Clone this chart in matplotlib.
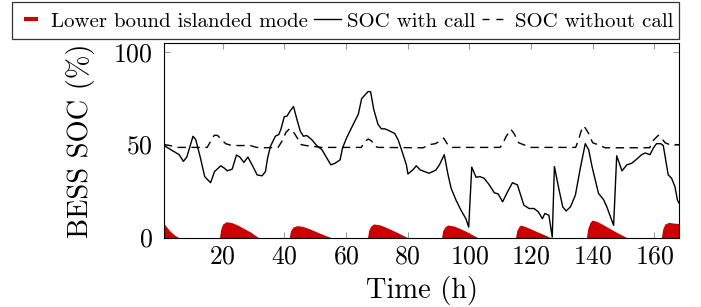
import matplotlib
matplotlib.use("Agg")
import matplotlib.pyplot as plt
from matplotlib.lines import Line2D
from matplotlib.patches import Rectangle

plt.rcParams['font.family'] = ['cmr10', 'DejaVu Serif']
plt.rcParams['mathtext.fontset'] = 'cm'
plt.rcParams['axes.unicode_minus'] = False
plt.rcParams['axes.formatter.use_mathtext'] = True

# ---- data ----
soc_call_h = [1.0, 3.2, 5.9, 7.3, 8.4, 10.4, 11.3, 12.7, 14.2, 16.1, 17.4, 19.4, 20.6, 21.5, 23.1,
              24.5, 25.6, 26.9, 28.2, 29.6, 31.2, 32.8, 33.9, 34.6, 35.5, 37.1, 38.2, 38.9, 40.0,
              40.9, 41.9, 43.0, 44.1, 45.2, 46.2, 47.3, 48.9, 50.5, 52.2, 53.8, 55.1, 56.5, 58.1,
              58.9, 60.2, 61.8, 62.9, 64.0, 65.1, 66.1, 67.2, 68.0, 69.0, 70.4, 71.5, 72.6, 73.6,
              75.8, 76.9, 78.0, 79.6, 80.1, 81.7, 82.8, 84.1, 85.5, 86.9, 88.2, 89.2, 90.3, 91.9,
              93.0, 94.1, 95.7, 97.3, 98.9, 99.8, 100.8, 102.2, 103.4, 104.8, 106.5, 108.1, 109.4,
              110.8, 112.4, 114.0, 115.6, 117.7, 119.4, 121.0, 122.4, 123.7, 124.5, 125.8, 126.9,
              127.6, 129.0, 130.3, 131.4, 132.8, 134.4, 136.0, 137.6, 138.7, 139.8, 141.9, 143.5,
              144.6, 146.8, 147.8, 149.5, 151.1, 152.7, 154.3, 155.9, 157.0, 158.6, 159.7, 160.7,
              162.1, 162.9, 164.5, 165.6, 166.7, 167.5, 168.0]
soc_call_v = [49.5, 47.3, 44.6, 41.0, 43.3, 54.5, 52.7, 43.6, 32.8, 29.5, 35.5, 38.6, 37.3, 35.9, 36.8,
              44.4, 43.3, 40.4, 43.3, 39.0, 33.7, 33.2, 35.5, 42.8, 49.0, 54.5, 55.4, 58.2, 65.0,
              65.4, 68.1, 70.5, 63.6, 57.2, 54.5, 54.9, 52.7, 49.5, 47.3, 42.8, 39.1, 40.0, 41.8,
              48.2, 53.6, 59.0, 62.7, 66.3, 74.8, 76.6, 78.6, 78.4, 69.0, 60.9, 58.5, 58.5, 57.8,
              56.0, 52.7, 47.3, 39.1, 34.2, 36.4, 38.6, 36.4, 35.5, 34.6, 35.5, 36.4, 39.1, 44.6,
              34.6, 26.5, 20.1, 14.7, 10.1, 5.6, 37.9, 32.4, 32.8, 31.9, 28.3, 24.1, 23.4,
              19.2, 24.6, 29.5, 28.3, 17.4, 15.6, 15.6, 13.8, 10.1, 12.9, 12.0, 0.2,
              38.2, 26.5, 16.5, 14.3, 16.5, 22.8, 37.3, 50.5, 47.3, 38.2, 23.7, 20.5,
              16.5, 6.5, 44.0, 35.9, 39.1, 40.0, 42.2, 44.6, 45.5, 44.6, 48.2, 50.5,
              50.5, 49.5, 33.7, 31.9, 27.3, 20.1, 18.5]

soc_nocall_h = [1, 3, 5, 15, 16.2, 17.3, 18.3, 19.5, 21, 23, 29, 31, 33, 38, 39.5, 40.5, 41.7,
                42.7, 43.8, 45.5, 47, 52, 65, 66, 67.2, 68.3, 69.5, 70.5, 85, 87, 89, 90.5, 91.7,
                93, 94.5, 110, 110.8, 112, 113.5, 114.5, 116, 118.3, 120, 134.5, 135.5, 136.3,
                137.2, 138.7, 140, 142, 144, 158.5, 159.5, 161.3, 162.3, 163.5, 165, 168]
soc_nocall_v = [50, 49.5, 48.5, 48.5, 52, 55, 55, 53, 50.5, 49.5, 49.5, 48.5, 48.3, 48.5, 52.5,
                56.5, 58.5, 57.5, 54.7, 50, 49.5, 48.5, 48.5, 51.5, 53, 52, 49, 48.5, 48.3, 50,
                50.5, 52, 53.5, 50, 48.5, 48.5, 50.5, 54.5, 58.2, 56, 51, 49.5, 48.5, 48.5, 53,
                57.5, 60, 56, 51, 49.8, 48.3, 48.3, 52, 55, 53.5, 51, 50, 50]

lower_h = [1, 2, 3, 4, 5, 5.8,
           19.0, 19.4, 20.0, 21.2, 23, 25, 27, 29, 31.6,
           41.6, 42.0, 42.8, 44.1, 46, 48, 50, 52, 55.1,
           67.0, 67.4, 68.1, 69.0, 71, 73, 75, 77, 79.9,
           91.0, 91.4, 92.2, 93.0, 95, 97, 99, 101, 102.7,
           115.0, 115.4, 116.1, 116.6, 118, 120, 122, 124, 126.3,
           138.0, 138.4, 139.1, 139.8, 141.5, 143.5, 145.5, 148, 151.0,
           162.3, 162.7, 163.4, 164.7, 166, 168]
lower_v = [7.5, 5.4, 3.4, 1.9, 0.7, 0,
           0, 4.5, 7.2, 8.5, 8.0, 6.6, 4.8, 3.0, 0,
           0, 3.5, 5.6, 6.4, 6.0, 4.8, 3.4, 2.0, 0,
           0, 4.0, 6.3, 7.3, 6.8, 5.5, 4.0, 2.4, 0,
           0, 3.8, 5.9, 6.7, 6.2, 4.8, 3.3, 1.5, 0,
           0, 3.8, 5.9, 6.7, 6.0, 4.6, 3.1, 1.7, 0,
           0, 4.8, 8.0, 9.4, 8.6, 6.8, 4.9, 2.6, 0,
           0, 4.5, 7.2, 8.2, 7.8, 7.5]

x_ticks = [20, 40, 60, 80, 100, 120, 140, 160]
y_ticks = [0, 50, 100]

# ---- figure ----
W, H = 701, 307
fig = plt.figure(figsize=(W / 100, H / 100), dpi=100)
ax_l, ax_r, ax_t, ax_b = 164, 679, 43, 237.5
ax = fig.add_axes([ax_l / W, 1 - ax_b / H, (ax_r - ax_l) / W, (ax_b - ax_t) / H])

red = '#cc0000'
ax.fill_between(lower_h, 0, lower_v, color=red, linewidth=0, zorder=2)
ax.plot(soc_call_h, soc_call_v, color='black', lw=1.0, zorder=3)
ax.plot(soc_nocall_h, soc_nocall_v, color='black', lw=1.0, linestyle=(0, (6, 4)), zorder=3)

ax.set_xlim(1, 168)
ax.set_ylim(0, 104.7)
ax.set_xticks(x_ticks)
ax.set_yticks(y_ticks)
ax.tick_params(direction='in', length=4.5, width=0.8, color='#999999',
               top=True, right=True, labelsize=18.5)
ax.tick_params(axis='x', pad=5)
ax.tick_params(axis='y', pad=8)
for s in ax.spines.values():
    s.set_linewidth(0.8)
    s.set_color('black')

ax.set_xlabel('Time (h)', fontsize=20.5, va='center')
ax.xaxis.set_label_coords(0.5, -0.27)
ax.set_ylabel('BESS SOC (%)', fontsize=20.5, va='center')
ax.yaxis.set_label_coords(-0.163, 0.5)

# legend
handles = [Line2D([], [], color=red, marker='_', markersize=10, mew=3, linestyle='none'),
           Line2D([], [], color='black', lw=1.0),
           Line2D([], [], color='black', lw=1.0, linestyle=(0, (5, 5)))]
labels = ['Lower bound islanded mode', 'SOC with call', 'SOC without call']
lx0, lx1, ly0, ly1 = 12, 679, 2, 39
fig.add_artist(Rectangle((lx0 / W, 1 - ly1 / H), (lx1 - lx0) / W, (ly1 - ly0) / H,
                         transform=fig.transFigure, facecolor='white',
                         edgecolor='#333333', linewidth=0.9, zorder=1))
leg = fig.legend(handles, labels, loc='center',
                 bbox_to_anchor=((lx0 + lx1) / 2 / W, 1 - (ly0 + ly1 + 2) / 2 / H),
                 ncol=3, fontsize=15, frameon=False,
                 handlelength=1.3, handletextpad=0.3,
                 columnspacing=0.3, borderpad=0.2)
leg.set_zorder(2)

fig.savefig('out.png', dpi=100)
